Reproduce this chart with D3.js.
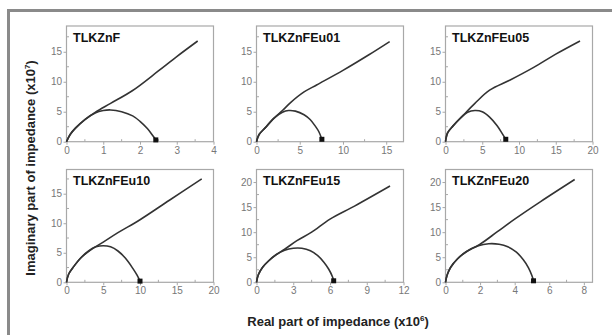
<!DOCTYPE html>
<html><head><meta charset="utf-8">
<script src="https://cdn.jsdelivr.net/npm/d3@7"></script>
<style>body{margin:0;background:#fff}</style></head>
<body>
<svg id="c" width="612" height="335"></svg>
<script>
// ---- data ----
const titles = ["TLKZnF","TLKZnFEu01","TLKZnFEu05","TLKZnFEu10","TLKZnFEu15","TLKZnFEu20"];
const xTicks = [[0,1,2,3,4],[0,5,10,15],[0,5,10,15,20],[0,5,10,15,20],[0,3,6,9,12],[0,2,4,6,8]];
const xMax   = [4,17,20,20,12,8.5];
const yTicks = [[0,5,10,15],[0,5,10,15],[0,5,10,15],[0,5,10,15],[0,5,10,15,20],[0,5,10,15,20]];
const yMax   = [19.3,19.3,19.3,19.1,22.5,22.5];

// semicircle (measured) : real part (x10^6), imaginary part (x10^7)
const arcRe = [
  [0,0.1,0.25,0.5,0.78,1.0,1.2,1.5,1.8,2.0,2.2,2.35,2.43],
  [0,0.3,1,2,3,3.7,4.5,5.5,6.2,6.8,7.2,7.56],
  [0,0.3,1,2,3,4,5,6,7,7.7,8.2],
  [0,0.3,1,2,3,4,5,6,7,8,9,9.6,10],
  [0,0.15,0.5,1,1.6,2.3,3,3.7,4.4,5,5.5,5.9,6.2,6.3],
  [0,0.1,0.3,0.7,1.2,1.9,2.5,3.1,3.6,4.1,4.5,4.8,5.0,5.09]
];
const arcIm = [
  [0,1.2,2.3,3.7,4.8,5.2,5.3,5.0,4.3,3.4,2.2,1.0,0.3],
  [0,1.2,2.3,3.9,4.9,5.2,5.1,4.5,3.7,2.6,1.7,0.4],
  [0,1.5,2.6,3.9,4.9,5.2,5.0,4.1,2.7,1.4,0.4],
  [0,1.4,2.7,4.2,5.3,6.0,6.2,6.0,5.3,4.1,2.4,1.2,0.2],
  [0,1.5,3.0,4.3,5.5,6.4,6.8,6.8,6.3,5.3,4.0,2.6,1.1,0.3],
  [0,1.5,3.0,4.7,6.1,7.3,7.7,7.6,7.1,6.0,4.5,2.9,1.3,0.3]
];
// fitted / extended line
const lineRe = [
  [0,0.1,0.25,0.5,0.78,1.2,1.79,2.5,3.0,3.57],
  [0,0.3,1,2,3,4,5.5,7,10,13,15.4],
  [0,0.3,1,2.4,4,6,8.8,12,15,18.3],
  [0,0.3,1,2,3.3,5,7,10,14,18.4],
  [0,0.15,0.5,1,1.6,2.3,3.3,4.5,6,8,10.9],
  [0,0.1,0.3,0.7,1.2,2.0,3,4,5.5,7.47]
];
const lineIm = [
  [0,1.2,2.3,3.7,4.9,6.4,8.5,11.8,14.2,16.8],
  [0,1.2,2.3,3.9,5.2,6.6,8.3,9.5,11.9,14.5,16.7],
  [0,1.5,2.6,4.4,6.4,8.6,10.3,12.4,14.6,16.8],
  [0,1.4,2.7,4.2,5.5,6.8,8.4,10.6,13.9,17.5],
  [0,1.5,3.0,4.3,5.5,6.6,8.3,10.0,12.6,15.2,19.2],
  [0,1.5,3.0,4.7,6.1,7.6,10.1,12.6,16.1,20.5]
];

// ---- layout ----
const svg = d3.select("#c");
const colLeft = [66.5, 256.5, 445.5];
const panelW = 147;
const rowTop = [26, 169.5];
const rowBottom = [141.7, 282.3];
const gray = "#a8a8a8", ink = "#333";
const font = "Liberation Sans, Arial, sans-serif";

// outer frame
svg.append("rect").attr("x",8.5).attr("y",10.5).attr("width",640).attr("height",360)
  .attr("fill","none").attr("stroke","#8a8a8a").attr("stroke-width",3);

titles.forEach((t,i)=>{
  const c = i%3, r = Math.floor(i/3);
  const x0 = colLeft[c], x1 = x0+panelW, y0 = rowTop[r], y1 = rowBottom[r];
  const x = d3.scaleLinear().domain([0,xMax[i]]).range([x0,x1]);
  const y = d3.scaleLinear().domain([0,yMax[i]]).range([y1,y0]);
  const g = svg.append("g");

  // x axis
  const xs = xTicks[i], xstep = xs[1]-xs[0];
  const xMinor = d3.range(xstep/2, xMax[i], xstep).filter(v=>!xs.includes(v));
  const xa = g.append("g").attr("transform",`translate(0,${y1})`)
    .call(d3.axisBottom(x).tickValues(xs).tickFormat(d3.format("d")).tickSize(3).tickSizeOuter(0).tickPadding(2));
  xa.select(".domain").remove();
  xa.selectAll("line").attr("stroke",gray);
  xa.selectAll("text").attr("fill","#777").attr("font-family",font).attr("font-size",10);
  g.selectAll(".xmin").data(xMinor).enter().append("line")
    .attr("x1",d=>x(d)).attr("x2",d=>x(d)).attr("y1",y1).attr("y2",y1-2.5).attr("stroke",gray);

  // y axis
  const ys = yTicks[i];
  const yMinor = d3.range(2.5, yMax[i], 5);
  const ya = g.append("g").attr("transform",`translate(${x0},0)`)
    .call(d3.axisLeft(y).tickValues(ys).tickFormat(d3.format("d")).tickSize(3).tickSizeOuter(0).tickPadding(1.5));
  ya.select(".domain").remove();
  ya.selectAll("line").attr("stroke",gray);
  ya.selectAll("text").attr("fill","#777").attr("font-family",font).attr("font-size",10);
  g.selectAll(".ymin").data(yMinor).enter().append("line")
    .attr("x1",x0).attr("x2",x0+2.5).attr("y1",d=>y(d)).attr("y2",d=>y(d)).attr("stroke",gray);

  // box
  g.append("rect").attr("x",x0).attr("y",y0).attr("width",x1-x0).attr("height",y1-y0)
    .attr("fill","none").attr("stroke",gray).attr("stroke-width",1.2);

  // curves
  const line = d3.line().x(d=>x(d[0])).y(d=>y(d[1])).curve(d3.curveCatmullRom.alpha(0.5));
  const fit = d3.zip(lineRe[i], lineIm[i]);
  const arc = d3.zip(arcRe[i], arcIm[i]);
  g.append("path").attr("d",line(fit)).attr("fill","none").attr("stroke",ink).attr("stroke-width",1.6);
  g.append("path").attr("d",line(arc)).attr("fill","none").attr("stroke",ink).attr("stroke-width",1.6);
  const last = arc[arc.length-1];
  g.append("rect").attr("x",x(last[0])-2.5).attr("y",y(last[1])-2.5).attr("width",5).attr("height",5).attr("fill","#111");

  // title
  g.append("text").attr("x",x0+6.5).attr("y",y0+15.5).text(t)
    .attr("font-family",font).attr("font-weight","bold")
    .attr("font-size",12.5).attr("fill","#111");
});

// axis labels
const yl = svg.append("text").attr("transform","translate(35,168) rotate(-90)")
  .attr("text-anchor","middle").attr("font-family",font)
  .attr("font-weight","bold").attr("font-size",13).attr("fill","#222");
yl.append("tspan").text("Imaginary part of impedance (x10");
yl.append("tspan").attr("dy",-5).attr("font-size",8).text("7");
yl.append("tspan").attr("dy",5).text(")");

const xl = svg.append("text").attr("x",338).attr("y",326)
  .attr("text-anchor","middle").attr("font-family",font)
  .attr("font-weight","bold").attr("font-size",13).attr("fill","#222");
xl.append("tspan").text("Real part of impedance (x10");
xl.append("tspan").attr("dy",-5).attr("font-size",8).text("6");
xl.append("tspan").attr("dy",5).text(")");
</script>
</body></html>
